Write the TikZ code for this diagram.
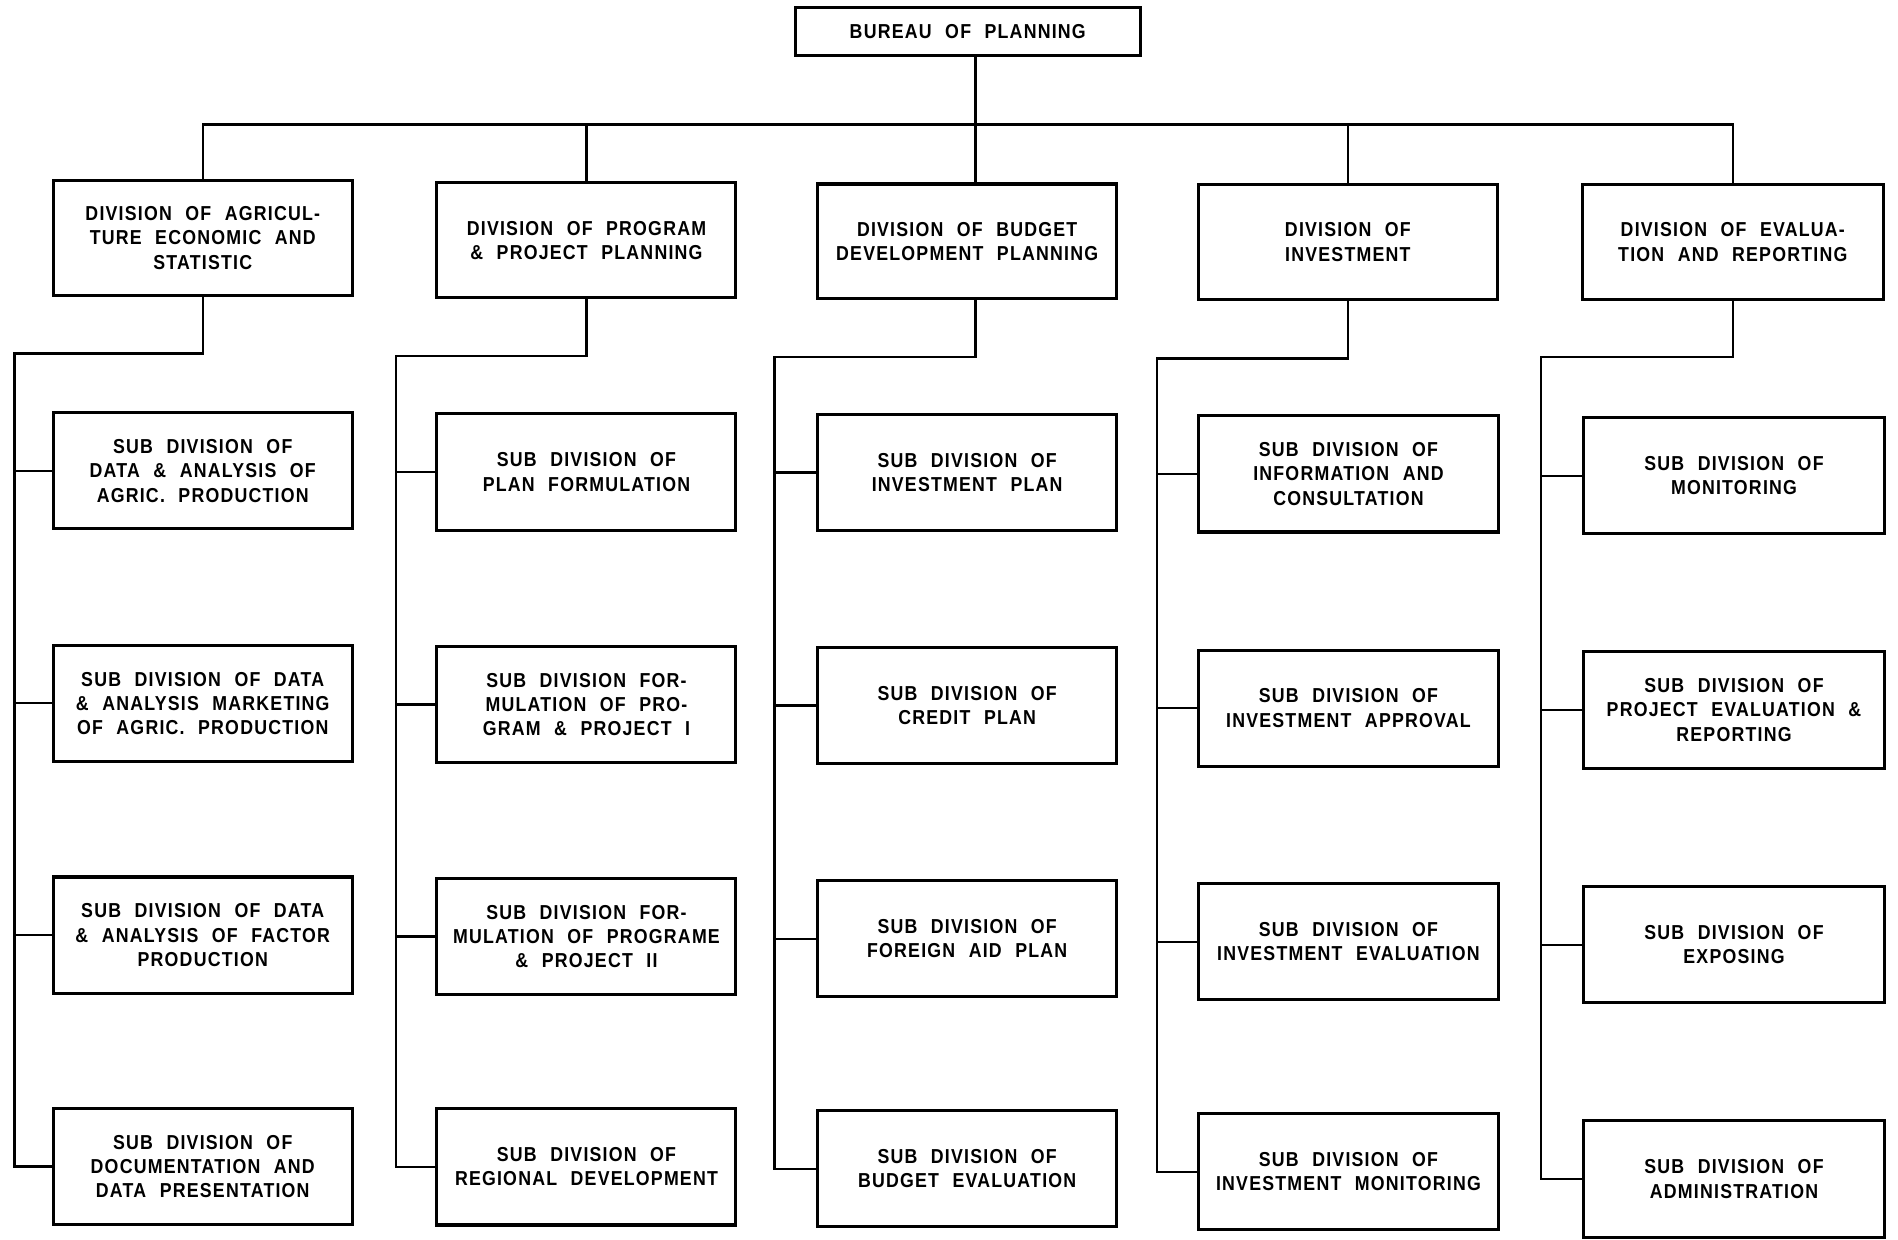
\documentclass[tikz,border=0pt]{standalone}
\usepackage{fontspec}
\setmainfont{Liberation Sans}[BoldFont={Liberation Sans Bold},WordSpace=1.8]
\newfontfamily\boxfont{Liberation Sans Bold}[FakeStretch=0.88,LetterSpace=6,WordSpace=2.2]
\begin{document}
\begin{tikzpicture}[x=0.6pt,y=-0.6pt,
  orgbox/.style={draw=black,line width=1.5pt,fill=white,align=center,inner sep=2pt,
     font=\boxfont\fontsize{10}{12}\selectfont},
  link/.style={draw=black,line width=1.2pt}]
\useasboundingbox (0,0) rectangle (1568,1024);
% top
\node[orgbox,minimum width=285*0.6pt,minimum height=40*0.6pt] (top) at (799.5,26) {BUREAU OF PLANNING};
% divisions
\tikzset{divbox/.style={orgbox,minimum width=247*0.6pt,minimum height=95*0.6pt}}
\node[divbox] (d1) at (167.5,196.5) {DIVISION OF AGRICUL-\\TURE ECONOMIC AND\\STATISTIC};
\node[divbox] (d2) at (484.5,198.5) {DIVISION OF PROGRAM\\\& PROJECT PLANNING};
\node[divbox] (d3) at (799,199.5) {DIVISION OF BUDGET\\DEVELOPMENT PLANNING};
\node[divbox] (d4) at (1113.5,200) {DIVISION OF\\INVESTMENT};
\node[divbox,minimum width=249*0.6pt] (d5) at (1431.5,200) {DIVISION OF EVALUA-\\TION AND REPORTING};
% sub divisions
\tikzset{subbox/.style={orgbox,minimum width=247*0.6pt,minimum height=96*0.6pt}}
\node[subbox] (s11) at (167.5,389) {SUB DIVISION OF\\DATA \& ANALYSIS OF\\AGRIC. PRODUCTION};
\node[subbox] (s12) at (167.5,581) {SUB DIVISION OF DATA\\\& ANALYSIS MARKETING\\OF AGRIC. PRODUCTION};
\node[subbox] (s13) at (167.5,772.5) {SUB DIVISION OF DATA\\\& ANALYSIS OF FACTOR\\PRODUCTION};
\node[subbox] (s14) at (167.5,963.5) {SUB DIVISION OF\\DOCUMENTATION AND\\DATA PRESENTATION};
\node[subbox] (s21) at (484.5,390) {SUB DIVISION OF\\PLAN FORMULATION};
\node[subbox] (s22) at (484.5,582) {SUB DIVISION FOR-\\MULATION OF PRO-\\GRAM \& PROJECT I};
\node[subbox] (s23) at (484.5,773.5) {SUB DIVISION FOR-\\MULATION OF PROGRAME\\\& PROJECT II};
\node[subbox] (s24) at (484.5,964) {SUB DIVISION OF\\REGIONAL DEVELOPMENT};
\node[subbox] (s31) at (799,390.5) {SUB DIVISION OF\\INVESTMENT PLAN};
\node[subbox] (s32) at (799,583) {SUB DIVISION OF\\CREDIT PLAN};
\node[subbox] (s33) at (799,775.5) {SUB DIVISION OF\\FOREIGN AID PLAN};
\node[subbox] (s34) at (799,965.5) {SUB DIVISION OF\\BUDGET EVALUATION};
\node[subbox,minimum width=248*0.6pt] (s41) at (1114,391.5) {SUB DIVISION OF\\INFORMATION AND\\CONSULTATION};
\node[subbox,minimum width=248*0.6pt] (s42) at (1114,585) {SUB DIVISION OF\\INVESTMENT APPROVAL};
\node[subbox,minimum width=248*0.6pt] (s43) at (1114,778) {SUB DIVISION OF\\INVESTMENT EVALUATION};
\node[subbox,minimum width=248*0.6pt] (s44) at (1114,968) {SUB DIVISION OF\\INVESTMENT MONITORING};
\node[subbox,minimum width=249*0.6pt] (s51) at (1432.5,393) {SUB DIVISION OF\\MONITORING};
\node[subbox,minimum width=249*0.6pt] (s52) at (1432.5,586.5) {SUB DIVISION OF\\PROJECT EVALUATION \&\\REPORTING};
\node[subbox,minimum width=249*0.6pt] (s53) at (1432.5,780.5) {SUB DIVISION OF\\EXPOSING};
\node[subbox,minimum width=249*0.6pt] (s54) at (1432.5,974) {SUB DIVISION OF\\ADMINISTRATION};
% top bus
\coordinate (busL) at (167.5,103);
\coordinate (busR) at (1431.5,103);
\coordinate (busM) at (806,103);
\draw[link] (top.south -| busM) -- (busM) -- (busM |- d3.north);
\draw[link] (d1.north) -- (d1.north |- busL) -- (d5.north |- busR) -- (d5.north);
\foreach \d in {d2,d4} \draw[link] (\d.north |- busL) -- (\d.north);
% column buses
\coordinate (c1) at (12,292);
\coordinate (c2) at (327,294);
\coordinate (c3) at (640,295);
\coordinate (c4) at (956,296);
\coordinate (c5) at (1273,295);
\foreach \k in {1,2,4,5}{
  \draw[link] (d\k.south) |- (c\k) |- (s\k4.west);
}
\draw[link] (busM |- d3.south) |- (c3) |- (s34.west);
\foreach \k in {1,...,5}{
  \foreach \r in {1,2,3} \draw[link] (c\k |- s\k\r.west) -- (s\k\r.west);
}
\end{tikzpicture}
\end{document}
